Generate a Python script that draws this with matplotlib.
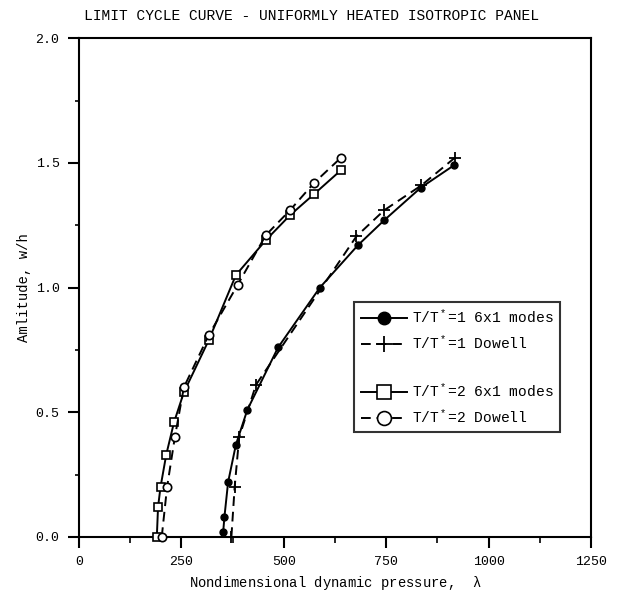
import matplotlib
matplotlib.use("Agg")
import matplotlib.pyplot as plt
from matplotlib.lines import Line2D
from matplotlib.ticker import MultipleLocator, FormatStrFormatter

plt.rcParams['font.family'] = ['Liberation Mono', 'DejaVu Sans Mono']
plt.rcParams['mathtext.fontset'] = 'custom'
plt.rcParams['mathtext.rm'] = 'Liberation Mono'
plt.rcParams['mathtext.it'] = 'Liberation Mono'

# T/T*=1, 6x1 modes
lam_1_modes = [352, 355, 364, 383, 411, 486, 588, 681, 745, 834, 915]
amp_1_modes = [0.02, 0.08, 0.22, 0.37, 0.51, 0.76, 1.00, 1.17, 1.27, 1.40, 1.49]

# T/T*=1, Dowell
lam_1_dowell = [372, 380, 391, 432, 677, 745, 836, 917]
amp_1_dowell = [0.0, 0.20, 0.40, 0.61, 1.205, 1.31, 1.41, 1.52]

# T/T*=2, 6x1 modes
lam_2_modes = [190, 193, 199, 213, 232, 256, 317, 383, 456, 515, 574, 639]
amp_2_modes = [0.0, 0.12, 0.20, 0.33, 0.46, 0.58, 0.79, 1.05, 1.19, 1.29, 1.375, 1.47]

# T/T*=2, Dowell
lam_2_dowell = [202, 215, 234, 256, 317, 387, 456, 515, 574, 639]
amp_2_dowell = [0.0, 0.20, 0.40, 0.60, 0.81, 1.01, 1.21, 1.31, 1.42, 1.52]

fig = plt.figure(figsize=(6.17, 6.01), dpi=100)
ax = fig.add_axes([0.128, 0.1065, 0.830, 0.830])

lw = 1.4
dash = (0, (5, 3))
ax.plot(lam_1_modes, amp_1_modes, color='k', lw=lw, marker='o', ms=5,
        mfc='k', mec='k', clip_on=False, zorder=3)
ax.plot(lam_1_dowell, amp_1_dowell, color='k', lw=lw, ls=dash, marker='+',
        ms=8, mew=1.3, clip_on=False, zorder=3)
ax.plot(lam_2_modes, amp_2_modes, color='k', lw=lw, marker='s', ms=6,
        mfc='white', mec='k', mew=1.2, clip_on=False, zorder=3)
ax.plot(lam_2_dowell, amp_2_dowell, color='k', lw=lw, ls=dash, marker='o',
        ms=6, mfc='white', mec='k', mew=1.2, clip_on=False, zorder=3)

ax.set_xlim(0, 1250)
ax.set_ylim(0, 2.0)
ax.xaxis.set_major_locator(MultipleLocator(250))
ax.xaxis.set_minor_locator(MultipleLocator(125))
ax.yaxis.set_major_locator(MultipleLocator(0.5))
ax.yaxis.set_minor_locator(MultipleLocator(0.25))
ax.yaxis.set_major_formatter(FormatStrFormatter('%.1f'))

for s in ax.spines.values():
    s.set_linewidth(1.5)
ax.tick_params(which='major', direction='out', length=8, width=1.5,
               labelsize=9.5, pad=6)
ax.tick_params(which='minor', direction='out', length=4, width=1.2)
ax.tick_params(axis='y', which='minor', length=3)

ax.set_xlabel(r'Nondimensional dynamic pressure,  $\lambda$', fontsize=10,
              labelpad=4)
ax.set_ylabel('Amlitude, w/h', fontsize=10, labelpad=3)
fig.text(0.505, 0.974, 'LIMIT CYCLE CURVE - UNIFORMLY HEATED ISOTROPIC PANEL',
         ha='center', va='center', fontsize=10.5)

handles = [
    Line2D([], [], color='k', lw=lw, marker='o', ms=9, mfc='k'),
    Line2D([], [], color='k', lw=lw, ls=dash, marker='+', ms=12, mew=1.3),
    Line2D([], [], color='none'),
    Line2D([], [], color='k', lw=lw, marker='s', ms=10, mfc='white', mew=1.2),
    Line2D([], [], color='k', lw=lw, ls=dash, marker='o', ms=10, mfc='white',
           mew=1.2),
]
labels = [r'T/T$^*$=1 6x1 modes', r'T/T$^*$=1 Dowell', '',
          r'T/T$^*$=2 6x1 modes', r'T/T$^*$=2 Dowell']
leg = ax.legend(handles, labels, loc='upper left',
                bbox_to_anchor=(0.537, 0.472), frameon=True, fancybox=False,
                edgecolor='k', fontsize=10.5, handlelength=3.2,
                handletextpad=0.3, borderpad=0.45, labelspacing=0.55,
                borderaxespad=0)
leg.get_frame().set_linewidth(1.5)

fig.savefig('out.png', dpi=100)
